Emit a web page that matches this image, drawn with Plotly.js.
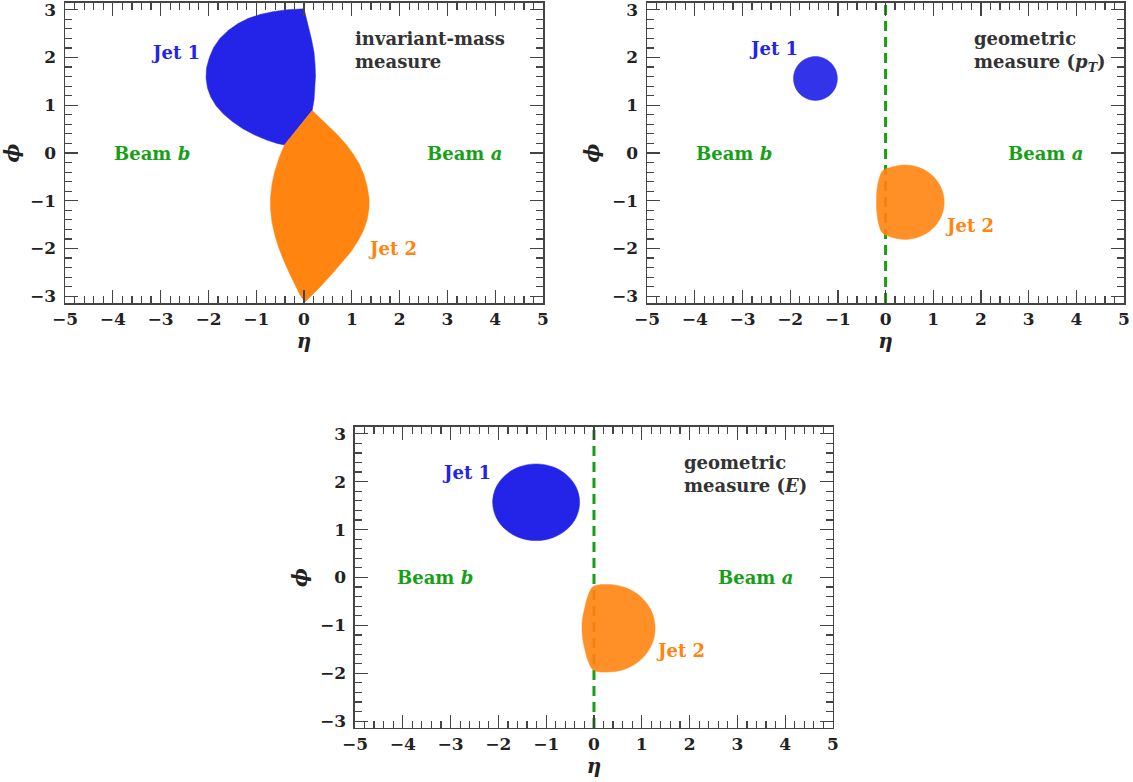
<!DOCTYPE html>
<html>
<head>
<meta charset="utf-8">
<script src="https://cdn.plot.ly/plotly-3.0.1.min.js"></script>
<style>html,body{margin:0;padding:0;background:#fff;}</style>
</head>
<body>
<div id="chart" style="width:1133px;height:782px;"></div>
<script>
// ---------- data (eta, phi outlines) ----------
const jet1MassEta = [0.00, -0.35, -0.65, -0.92, -1.16, -1.38, -1.58, -1.76, -1.89, -1.98, -2.04, -2.05, -2.02, -1.95, -1.84, -1.69, -1.50, -1.28, -1.04, -0.78, -0.56, -0.41, -0.12, 0.17, 0.21, 0.235, 0.24, 0.23, 0.21, 0.16, 0.10, 0.05];
const jet1MassPhi = [3.02, 3.00, 2.96, 2.90, 2.82, 2.71, 2.57, 2.40, 2.21, 2.00, 1.78, 1.57, 1.36, 1.17, 0.99, 0.82, 0.66, 0.51, 0.38, 0.27, 0.20, 0.17, 0.53, 0.89, 1.12, 1.40, 1.61, 1.86, 2.10, 2.36, 2.62, 2.85];
const jet2MassEta = [0.17, 0.35, 0.52, 0.70, 0.87, 1.02, 1.15, 1.25, 1.32, 1.36, 1.36, 1.32, 1.24, 1.13, 0.98, 0.78, 0.56, 0.34, 0.15, 0.02, -0.08, -0.18, -0.30, -0.42, -0.53, -0.61, -0.67, -0.70, -0.70, -0.67, -0.61, -0.52, -0.41, -0.12];
const jet2MassPhi = [0.89, 0.72, 0.55, 0.38, 0.19, -0.01, -0.22, -0.45, -0.70, -0.95, -1.15, -1.40, -1.63, -1.84, -2.07, -2.31, -2.56, -2.80, -3.00, -3.12, -2.98, -2.78, -2.53, -2.26, -1.98, -1.72, -1.45, -1.18, -0.92, -0.65, -0.38, -0.10, 0.17, 0.53];

const jet1PtEta = [-1.01, -1.045, -1.145, -1.294, -1.47, -1.646, -1.795, -1.895, -1.93, -1.895, -1.795, -1.646, -1.47, -1.294, -1.145, -1.045];
const jet1PtPhi = [1.56, 1.736, 1.885, 1.985, 2.02, 1.985, 1.885, 1.736, 1.56, 1.384, 1.235, 1.135, 1.10, 1.135, 1.235, 1.384];
const jet2PtEta = [-0.06, 0.082, 0.40, 0.718, 0.987, 1.167, 1.23, 1.167, 0.987, 0.718, 0.40, 0.082, -0.064, -0.14, -0.18, -0.19, -0.18, -0.14];
const jet2PtPhi = [-0.37, -0.309, -0.25, -0.309, -0.478, -0.731, -1.03, -1.329, -1.582, -1.751, -1.81, -1.751, -1.677, -1.50, -1.26, -1.02, -0.78, -0.56];

const jet1EEta = [-0.30, -0.369, -0.567, -0.862, -1.21, -1.558, -1.853, -2.051, -2.12, -2.051, -1.853, -1.558, -1.21, -0.862, -0.567, -0.369];
const jet1EPhi = [1.57, 1.876, 2.136, 2.309, 2.37, 2.309, 2.136, 1.876, 1.57, 1.264, 1.004, 0.831, 0.77, 0.831, 1.004, 1.264];
const jet2EEta = [-0.016, 0.29, 0.669, 0.990, 1.205, 1.28, 1.205, 0.990, 0.669, 0.29, -0.016, -0.12, -0.19, -0.24, -0.25, -0.24, -0.19, -0.12];
const jet2EPhi = [-0.19, -0.145, -0.215, -0.413, -0.710, -1.06, -1.41, -1.707, -1.905, -1.975, -1.93, -1.75, -1.50, -1.25, -1.06, -0.87, -0.62, -0.37];

const boundaryEta = [0, 0];
const boundaryPhi = [-3.1416, 3.1416];

const measureLabels = ['invariant-mass<br>measure', 'geometric<br>measure (<i>p</i><sub><i>T</i></sub>)', 'geometric<br>measure (<i>E</i>)'];
const xTickVals = [-5, -4, -3, -2, -1, 0, 1, 2, 3, 4, 5];
const yTickVals = [-3, -2, -1, 0, 1, 2, 3];

// ---------- styling ----------
const BLUE = '#2424e8';
const ORANGE = '#ff8410';
const GREEN = '#17a017';
const AX = '#444';
const FONT = 'DejaVu Serif';

function region(xs, ys, color, axes, op, smooth) {
  return {
    type: 'scatter', mode: 'lines', x: xs.concat([xs[0]]), y: ys.concat([ys[0]]),
    fill: 'toself', fillcolor: color, opacity: op,
    line: smooth ? {color: color, width: 0.5, shape: 'spline', smoothing: 1} : {color: color, width: 0.5},
    xaxis: axes[0], yaxis: axes[1], hoverinfo: 'skip'
  };
}
function boundary(axes) {
  return {
    type: 'scatter', mode: 'lines', x: boundaryEta, y: boundaryPhi,
    line: {color: GREEN, width: 3, dash: '10px,6px'},
    xaxis: axes[0], yaxis: axes[1], hoverinfo: 'skip'
  };
}

const data = [
  region(jet1MassEta, jet1MassPhi, BLUE, ['x', 'y'], 1, false),
  region(jet2MassEta, jet2MassPhi, ORANGE, ['x', 'y'], 1, false),
  boundary(['x2', 'y2']),
  region(jet1PtEta, jet1PtPhi, BLUE, ['x2', 'y2'], 0.93, true),
  region(jet2PtEta, jet2PtPhi, ORANGE, ['x2', 'y2'], 0.9, true),
  boundary(['x3', 'y3']),
  region(jet1EEta, jet1EPhi, BLUE, ['x3', 'y3'], 1, true),
  region(jet2EEta, jet2EPhi, ORANGE, ['x3', 'y3'], 0.9, true)
];

function xAxis(domain, anchor) {
  return {
    domain: domain, anchor: anchor, range: [-5, 5], tickvals: xTickVals,
    ticks: 'inside', ticklen: 13, tickwidth: 1.3, tickcolor: AX,
    showline: true, linecolor: AX, linewidth: 1.5, mirror: 'ticks',
    showgrid: false, zeroline: false, ticklabelstandoff: 0, ticklabeloverflow: 'allow',
    minor: {ticks: 'inside', ticklen: 7, dtick: 0.2, tick0: 0, tickcolor: AX, tickwidth: 1.2, showgrid: false},
    tickfont: {family: FONT, size: 17, color: '#222', weight: 'bold'},
    title: {text: '<b><i>η</i></b>', font: {family: FONT, size: 20, color: '#222'}, standoff: 3}
  };
}
function yAxis(domain, anchor) {
  return {
    domain: domain, anchor: anchor, range: [-Math.PI, Math.PI], tickvals: yTickVals,
    ticks: 'inside', ticklen: 13, tickwidth: 1.3, tickcolor: AX,
    showline: true, linecolor: AX, linewidth: 1.5, mirror: 'ticks',
    showgrid: false, zeroline: false, ticklabelstandoff: 4, ticklabeloverflow: 'allow',
    minor: {ticks: 'inside', ticklen: 7, dtick: 0.2, tick0: 0, tickcolor: AX, tickwidth: 1.2, showgrid: false},
    tickfont: {family: FONT, size: 17, color: '#222', weight: 'bold'},
    title: {text: '<b><i>ϕ</i></b>', font: {family: FONT, size: 20, color: '#222'}, standoff: 7}
  };
}

function ann(xref, yref, x, y, text, color, xanchor) {
  return {xref: xref, yref: yref, x: x, y: y, text: text, showarrow: false,
    xanchor: xanchor || 'center', yanchor: 'middle', align: 'left',
    font: {family: FONT, size: 18, color: color, weight: 'bold'}};
}

const annotations = [
  ann('x', 'y', -2.68, 2.10, 'Jet 1', BLUE),
  ann('x', 'y', 1.86, -2.01, 'Jet 2', ORANGE),
  ann('x', 'y', -3.18, 0.0, 'Beam <i>b</i>', GREEN),
  ann('x', 'y', 3.35, 0.0, 'Beam <i>a</i>', GREEN),
  ann('x', 'y', 1.03, 2.15, measureLabels[0], '#333', 'left'),

  ann('x2', 'y2', -2.34, 2.18, 'Jet 1', BLUE),
  ann('x2', 'y2', 1.77, -1.51, 'Jet 2', ORANGE),
  ann('x2', 'y2', -3.17, 0.0, 'Beam <i>b</i>', GREEN),
  ann('x2', 'y2', 3.36, 0.0, 'Beam <i>a</i>', GREEN),
  ann('x2', 'y2', 1.81, 2.13, measureLabels[1], '#333', 'left'),

  ann('x3', 'y3', -2.66, 2.19, 'Jet 1', BLUE),
  ann('x3', 'y3', 1.80, -1.52, 'Jet 2', ORANGE),
  ann('x3', 'y3', -3.33, 0.0, 'Beam <i>b</i>', GREEN),
  ann('x3', 'y3', 3.37, 0.0, 'Beam <i>a</i>', GREEN),
  ann('x3', 'y3', 1.84, 2.17, measureLabels[2], '#333', 'left')
];

const layout = {
  width: 1133, height: 782,
  margin: {l: 0, r: 0, t: 0, b: 0},
  paper_bgcolor: '#fff', plot_bgcolor: '#fff',
  showlegend: false,
  xaxis: xAxis([0.0574, 0.4793], 'y'),
  yaxis: yAxis([0.6125, 0.9962], 'x'),
  xaxis2: xAxis([0.5711, 0.9921], 'y2'),
  yaxis2: yAxis([0.6125, 0.9962], 'x2'),
  xaxis3: xAxis([0.3133, 0.7352], 'y3'),
  yaxis3: yAxis([0.0691, 0.4540], 'x3'),
  annotations: annotations
};

Plotly.newPlot('chart', data, layout, {staticPlot: true, displayModeBar: false});
</script>
</body>
</html>
